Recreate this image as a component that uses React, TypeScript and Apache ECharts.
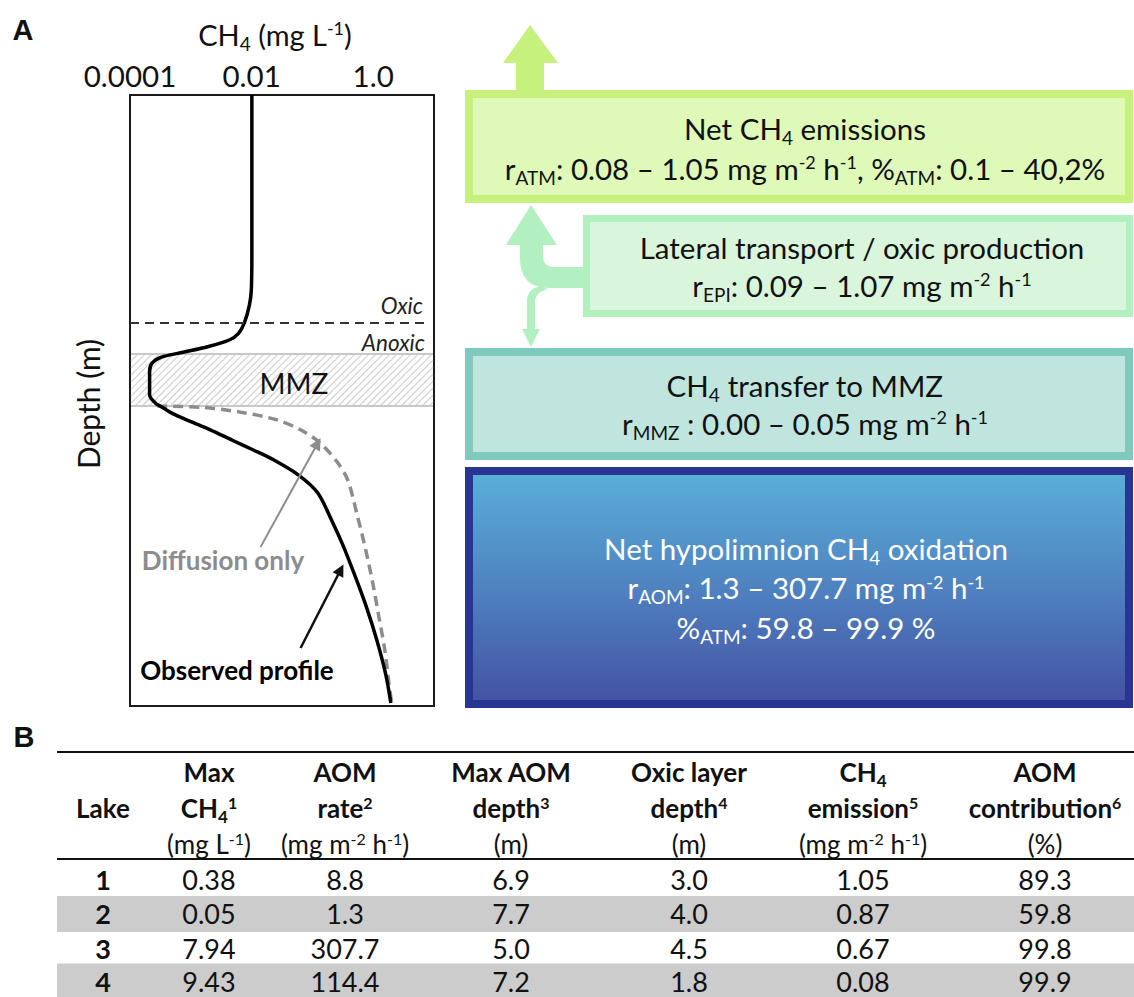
import React, { useEffect, useRef } from 'react';
import * as echarts from 'echarts';

const FONT = 'Lato, "Open Sans", sans-serif';

// ---------- Panel A: CH4 profile ----------
const observedConc = [0.0101, 0.0101, 0.0099, 0.0092, 0.0076, 0.0061, 0.0043, 0.0019, 0.00075, 0.00033, 0.00023, 0.00021, 0.00021, 0.00026, 0.000337, 0.000493, 0.000977, 0.00209, 0.00482, 0.0107, 0.0229, 0.0592, 0.122, 0.207, 0.315, 0.497, 0.755, 1.146, 1.614, 1.95];
const observedDepth = [0, 2.54, 3.19, 3.44, 3.73, 3.9, 4.01, 4.12, 4.21, 4.29, 4.39, 4.53, 4.91, 5.04, 5.11, 5.21, 5.34, 5.48, 5.65, 5.81, 5.97, 6.22, 6.51, 6.96, 7.36, 7.86, 8.35, 8.92, 9.49, 9.95];
const diffusionConc = [0.00028, 0.00143, 0.0065, 0.0267, 0.064, 0.136, 0.261, 0.381, 0.557, 0.755, 0.984, 1.24, 1.55, 1.81, 2.03];
const diffusionDepth = [5.09, 5.11, 5.19, 5.32, 5.48, 5.7, 6.02, 6.3, 6.91, 7.45, 7.99, 8.54, 9.08, 9.62, 9.98];
const oxicDepth = 3.73;
const mmzTop = 4.24;
const mmzBottom = 5.09;
const xTickValues = [0.0001, 0.01, 1];
const xTickLabels = ['0.0001', '0.01', '1.0'];
const diffusionArrow = [[0.014, 7.4], [0.122, 5.7]];
const observedArrow = [[0.064, 9.05], [0.292, 7.77]];

// ---------- Flux boxes ----------
const emissionLines = ['Net CH{sub|4} emissions', 'r{sub|ATM}: 0.08 – 1.05 mg m{sup|-2} h{sup|-1}, %{sub|ATM}: 0.1 – 40,2%'];
const lateralLines = ['Lateral transport / oxic production', 'r{sub|EPI}: 0.09 – 1.07 mg m{sup|-2} h{sup|-1}'];
const transferLines = ['CH{sub|4} transfer to MMZ', 'r{sub|MMZ} : 0.00 – 0.05 mg m{sup|-2} h{sup|-1}'];
const oxidationLines = ['Net hypolimnion CH{sub|4} oxidation', 'r{sub|AOM}: 1.3 – 307.7 mg m{sup|-2} h{sup|-1}', '%{sub|ATM}: 59.8 – 99.9 %'];

// ---------- Panel B: table ----------
const tableHeader1 = ['', 'Max', 'AOM', 'Max AOM', 'Oxic layer', 'CH{sub|4}', 'AOM'];
const tableHeader2 = ['Lake', 'CH{sub|4}{sup|1}', 'rate{sup|2}', 'depth{sup|3}', 'depth{sup|4}', 'emission{sup|5}', 'contribution{sup|6}'];
const tableUnits = ['', '(mg L{sup|-1})', '(mg m{sup|-2} h{sup|-1})', '(m)', '(m)', '(mg m{sup|-2} h{sup|-1})', '(%)'];
const lakes = [1, 2, 3, 4];
const maxCH4 = [0.38, 0.05, 7.94, 9.43];
const aomRate = [8.8, 1.3, 307.7, 114.4];
const maxAomDepth = [6.9, 7.7, 5.0, 7.2];
const oxicLayerDepth = [3.0, 4.0, 4.5, 1.8];
const ch4Emission = [1.05, 0.87, 0.67, 0.08];
const aomContribution = [89.3, 59.8, 99.8, 99.9];
const tableDecimals = [0, 2, 1, 1, 1, 2, 1];

const upArrowD = 'M506 245 L531 205 L557 245 L543 245 L543 256 Q543 267 555 267 L583 267 L583 288 L549 288 Q520 288 520 258 L520 245 Z';
const downArrowD = 'M527 329 L527 301 Q527 289 541 286 L548 289 Q535 292 535 302 L535 329 L540 329 L531 347 L522 329 Z';
echarts.graphic.registerShape('lateralUp', echarts.graphic.extendPath(upArrowD, {}));
echarts.graphic.registerShape('lateralDown', echarts.graphic.extendPath(downArrowD, {}));

function richStyles(fs: number, fill: string, weight: string, lh: number) {
  return {
    sub: { fontSize: Math.round(fs * 0.65), padding: [Math.round(fs * 0.62), 0, 0, 0], fill, color: fill, fontFamily: FONT, fontWeight: weight, lineHeight: lh },
    sup: { fontSize: Math.round(fs * 0.62), padding: [0, 0, Math.round(fs * 0.42), 0], fill, color: fill, fontFamily: FONT, fontWeight: weight, lineHeight: lh },
  };
}

function txt(x: number, y: number, text: string, o: any = {}) {
  const fs = o.fontSize || 24;
  const fill = o.fill || '#111';
  const weight = o.fontWeight || 'normal';
  const lh = o.lineHeight || fs * 1.4;
  return {
    type: 'text',
    x,
    y,
    rotation: o.rotation || 0,
    z: 30,
    silent: true,
    style: {
      text,
      fill,
      fontSize: fs,
      fontFamily: o.fontFamily || FONT,
      fontWeight: weight,
      fontStyle: o.fontStyle || 'normal',
      align: o.align || 'center',
      verticalAlign: 'middle',
      textAlign: o.align || 'center',
      textVerticalAlign: 'middle',
      lineHeight: lh,
      rich: richStyles(fs, fill, weight, lh),
    },
  };
}

function box(x0: number, y0: number, x1: number, y1: number, bw: number, stroke: string, fill: any) {
  return {
    type: 'rect',
    z: 5,
    silent: true,
    shape: { x: x0 + bw / 2, y: y0 + bw / 2, width: x1 - x0 - bw, height: y1 - y0 - bw },
    style: { fill, stroke, lineWidth: bw },
  };
}

function buildOption() {
  const g: any[] = [];
  // panel letters
  g.push(txt(23, 30, 'A', { fontSize: 29, fontWeight: 'bold', fontFamily: '"Liberation Sans", Arial, sans-serif' }));
  g.push(txt(24, 737, 'B', { fontSize: 29, fontWeight: 'bold', fontFamily: '"Liberation Sans", Arial, sans-serif' }));
  // axis titles
  g.push(txt(275, 34, 'CH{sub|4} (mg L{sup|-1})', { fontSize: 29 }));
  g.push(txt(88, 404, 'Depth (m)', { fontSize: 30, rotation: Math.PI / 2 }));
  // profile annotations
  g.push(txt(423, 305, 'Oxic', { fontSize: 22.5, fontStyle: 'italic', align: 'right', fill: '#222' }));
  g.push(txt(425, 342, 'Anoxic', { fontSize: 22.5, fontStyle: 'italic', align: 'right', fill: '#222' }));
  g.push(txt(294, 383, 'MMZ', { fontSize: 28 }));
  g.push(txt(223, 560, 'Diffusion only', { fontSize: 26, fontWeight: 'bold', fill: '#8c8c8c' }));
  g.push(txt(237, 670, 'Observed profile', { fontSize: 26, fontWeight: 'bold', fill: '#000' }));

  // flux arrows
  g.push({
    type: 'polygon', z: 4, silent: true,
    shape: { points: [[516, 92], [516, 63], [503, 63], [530, 25], [558, 63], [544, 63], [544, 92]] },
    style: { fill: '#c5f17c' },
  });
  g.push({ type: 'lateralUp', z: 4, silent: true, x: 0, y: 0, style: { fill: '#b2f0bf' } });
  g.push({ type: 'lateralDown', z: 4, silent: true, x: 0, y: 0, style: { fill: '#b2f0bf' } });

  // flux boxes
  g.push(box(465, 90, 1133, 203, 8, '#c5f17c', '#dff9b9'));
  g.push(box(583, 215, 1133, 317, 7, '#b2f0bf', '#d9f6dc'));
  g.push(box(465, 348, 1133, 460, 8, '#80cabd', '#c0e5de'));
  g.push(box(465, 467, 1133, 708, 8, '#283593', new echarts.graphic.LinearGradient(0, 0, 0, 1, [
    { offset: 0, color: '#5aafd9' },
    { offset: 0.5, color: '#4f82c0' },
    { offset: 1, color: '#4451a1' },
  ])));
  const bfs = 29.5;
  emissionLines.forEach((t, i) => g.push(txt(805, 128 + i * 40, t, { fontSize: bfs })));
  lateralLines.forEach((t, i) => g.push(txt(862, 247 + i * 38, t, { fontSize: bfs })));
  transferLines.forEach((t, i) => g.push(txt(805, 385 + i * 38, t, { fontSize: bfs })));
  oxidationLines.forEach((t, i) => g.push(txt(806, 548 + i * 39.5, t, { fontSize: bfs, fill: '#ffffff' })));

  // table
  const colX = [103, 209, 345, 511, 689, 863, 1045];
  const rowY = [879, 913.5, 948, 981];
  const columns = [lakes, maxCH4, aomRate, maxAomDepth, oxicLayerDepth, ch4Emission, aomContribution];
  rowY.forEach((y, r) => {
    if (r % 2 === 1) {
      g.push({ type: 'rect', z: 2, silent: true, shape: { x: 57, y: y - 17.5, width: 1077, height: 36 }, style: { fill: '#cccccc' } });
    }
  });
  g.push({ type: 'line', z: 3, silent: true, shape: { x1: 57, y1: 752, x2: 1134, y2: 752 }, style: { stroke: '#111', lineWidth: 2 } });
  g.push({ type: 'line', z: 3, silent: true, shape: { x1: 57, y1: 859, x2: 1134, y2: 859 }, style: { stroke: '#111', lineWidth: 2 } });
  colX.forEach((x, c) => {
    if (tableHeader1[c]) g.push(txt(x, 772, tableHeader1[c], { fontSize: 26, fontWeight: 'bold', lineHeight: 30 }));
    g.push(txt(x, 808, tableHeader2[c], { fontSize: 26, fontWeight: 'bold', lineHeight: 30 }));
    if (tableUnits[c]) g.push(txt(x, 844, tableUnits[c], { fontSize: 26, lineHeight: 30 }));
    columns[c].forEach((v, r) => {
      g.push(txt(x, rowY[r], v.toFixed(tableDecimals[c]), { fontSize: 27, lineHeight: 28, fontWeight: c === 0 ? 'bold' : 'normal' }));
    });
  });

  const observed = observedConc.map((c, i) => [c, observedDepth[i]]);
  const diffusion = diffusionConc.map((c, i) => [c, diffusionDepth[i]]);

  return {
    animation: false,
    backgroundColor: '#ffffff',
    grid: { left: 130, top: 95, width: 304, height: 611, show: true, borderColor: '#1a1a1a', borderWidth: 2, backgroundColor: 'transparent' },
    xAxis: {
      type: 'log',
      logBase: 10,
      min: 0.0001,
      max: 10,
      position: 'top',
      axisLine: { show: false },
      axisTick: { show: false },
      splitLine: { show: false },
      axisLabel: {
        margin: 5,
        fontSize: 29.5,
        fontFamily: FONT,
        color: '#111',
        formatter: (v: number) => {
          const i = xTickValues.findIndex((t) => Math.abs(Math.log10(t) - Math.log10(v)) < 1e-6);
          return i >= 0 ? xTickLabels[i] : '';
        },
      },
    },
    yAxis: {
      type: 'value',
      inverse: true,
      min: 0,
      max: 10,
      axisLine: { show: false },
      axisTick: { show: false },
      axisLabel: { show: false },
      splitLine: { show: false },
    },
    series: [
      {
        type: 'custom',
        name: 'MMZ',
        silent: true,
        z: 1,
        data: [[1, mmzTop, mmzBottom]],
        renderItem: (params: any, api: any) => {
          const cs = params.coordSys;
          const y0 = api.coord([1, api.value(1)])[1];
          const y1 = api.coord([1, api.value(2)])[1];
          const x0 = cs.x + 1;
          const x1 = cs.x + cs.width - 1;
          const h = y1 - y0;
          const children: any[] = [];
          for (let a = x0 - h; a < x1; a += 7) {
            let xs = a, ys = y1, xe = a + h, ye = y0;
            if (xs < x0) { ys = y1 - (x0 - xs); xs = x0; }
            if (xe > x1) { ye = y0 + (xe - x1); xe = x1; }
            if (xe <= xs) continue;
            children.push({ type: 'line', shape: { x1: xs, y1: ys, x2: xe, y2: ye }, style: { stroke: '#d2d2d2', lineWidth: 1.2 } });
          }
          children.push({ type: 'line', shape: { x1: x0, y1: y0, x2: x1, y2: y0 }, style: { stroke: '#c8c8c8', lineWidth: 2 } });
          children.push({ type: 'line', shape: { x1: x0, y1: y1, x2: x1, y2: y1 }, style: { stroke: '#c8c8c8', lineWidth: 2 } });
          return { type: 'group', children };
        },
      },
      {
        type: 'line',
        name: 'Diffusion only',
        data: diffusion,
        symbol: 'none',
        smooth: 0.3,
        z: 3,
        lineStyle: { color: '#8c8c8c', width: 3.5, type: [10, 6] },
      },
      {
        type: 'line',
        name: 'Observed profile',
        data: observed,
        symbol: 'none',
        smooth: 0.3,
        z: 4,
        lineStyle: { color: '#000000', width: 3.5 },
        markLine: {
          silent: true,
          symbol: ['none', 'triangle'],
          symbolSize: 12,
          label: { show: false },
          data: [
            [
              { coord: [0.0001, oxicDepth], symbol: 'none', lineStyle: { color: '#333', width: 1.8, type: [9, 6] } },
              { coord: [8.3, oxicDepth], symbol: 'none' },
            ],
            [
              { coord: diffusionArrow[0], lineStyle: { color: '#8c8c8c', width: 2, type: 'solid' } },
              { coord: diffusionArrow[1], itemStyle: { color: '#8c8c8c' } },
            ],
            [
              { coord: observedArrow[0], lineStyle: { color: '#111', width: 2.5, type: 'solid' } },
              { coord: observedArrow[1], itemStyle: { color: '#111' } },
            ],
          ],
        },
      },
    ],
    graphic: g,
  };
}

export default function App() {
  const ref = useRef<HTMLDivElement>(null);
  useEffect(() => {
    document.body.style.margin = '0';
    const chart = echarts.init(ref.current as HTMLDivElement, null, { renderer: 'svg' });
    chart.setOption(buildOption() as any);
    return () => chart.dispose();
  }, []);
  return <div ref={ref} style={{ width: 1134, height: 997 }} />;
}
